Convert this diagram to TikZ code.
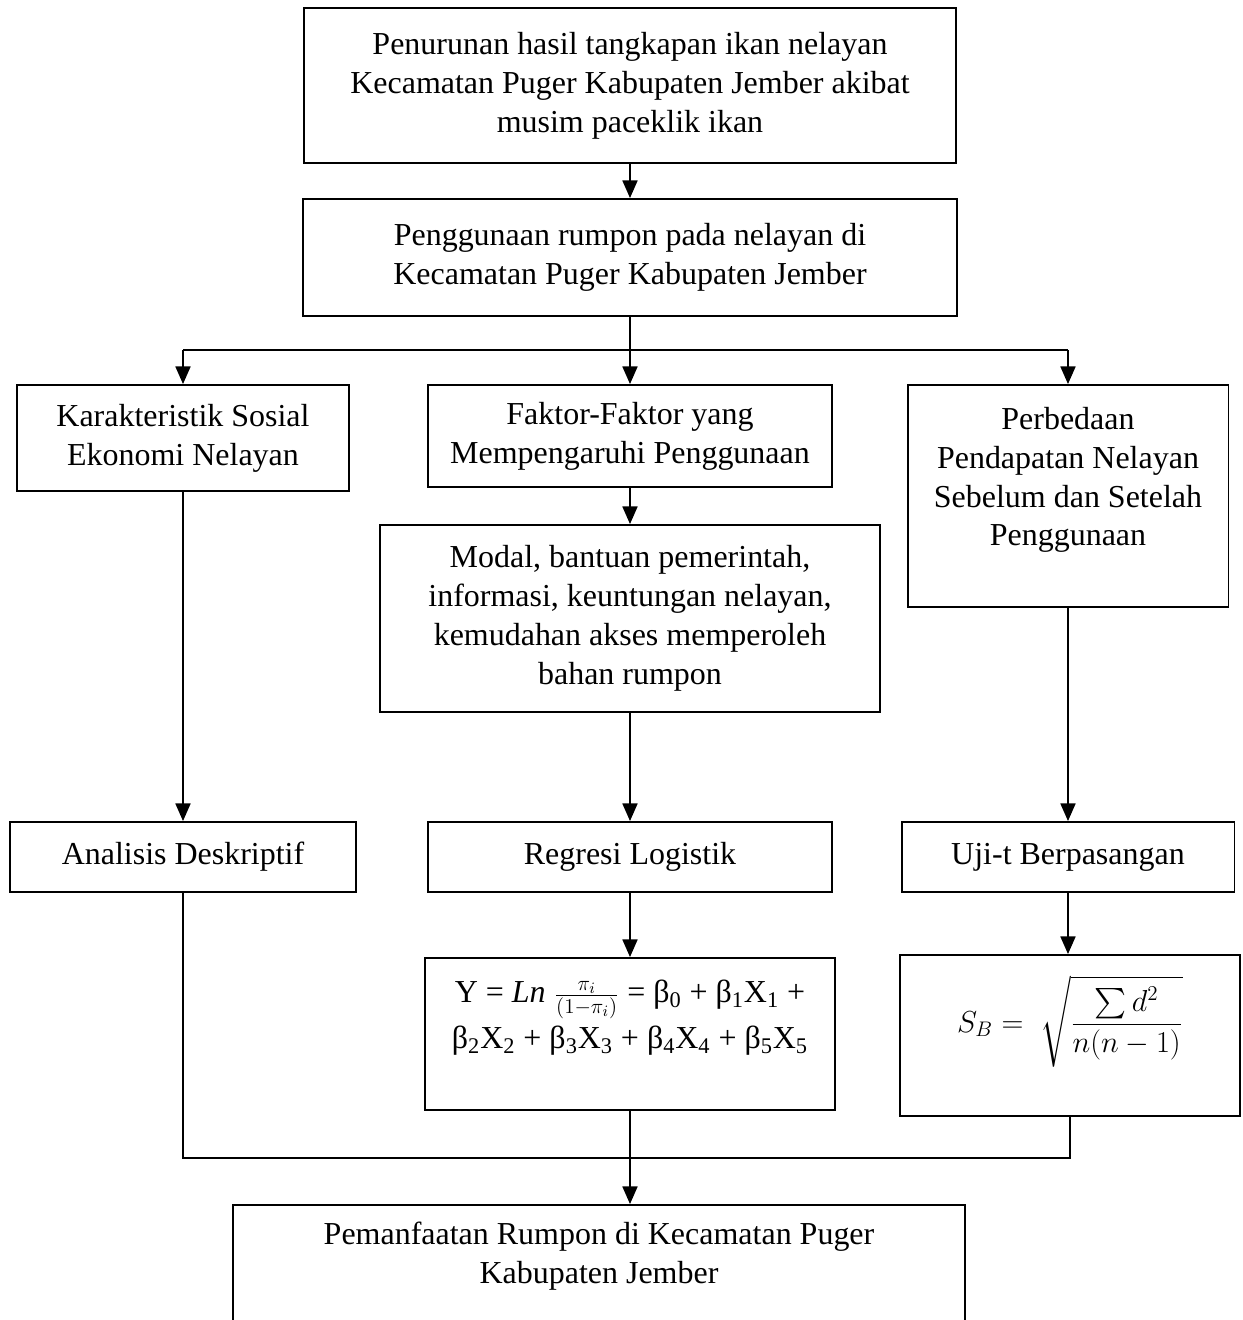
\documentclass[tikz,border=0pt]{standalone}
\usepackage{amsmath}
\usepackage{fontspec}
\setmainfont{Liberation Serif}
\usetikzlibrary{arrows.meta, positioning}

\tikzset{
  box/.style={draw, line width=1.1pt, align=center, inner sep=0pt},
  arr/.style={line width=1.1pt, -{Triangle[length=10pt, width=8.5pt]}},
  ln/.style={line width=1.1pt},
}

\begin{document}
\begin{tikzpicture}[x=0.02cm, y=-0.02cm, font=\fontsize{18.2}{22.1}\selectfont]
  \clip (0,0) rectangle (1243,1320);
  % top of the flow
  \node[box, minimum width=13.06cm, minimum height=3.1cm] (turun) at (630,85.5)
    {Penurunan hasil tangkapan ikan nelayan\\Kecamatan Puger Kabupaten Jember akibat\\musim paceklik ikan};
  \node[box, minimum width=13.1cm, minimum height=2.34cm] (guna) at (630,257.5)
    {Penggunaan rumpon pada nelayan di\\Kecamatan Puger Kabupaten Jember};
  % three branches
  \node[box, minimum width=6.64cm, minimum height=2.12cm] (karak) at (183,438)
    {Karakteristik Sosial\\Ekonomi Nelayan};
  \node[box, minimum width=8.1cm, minimum height=2.04cm] (faktor) at (630,436)
    {Faktor-Faktor yang\\Mempengaruhi Penggunaan};
  \node[box, minimum width=6.42cm, minimum height=4.44cm] (beda) at (1068,496)
    {Perbedaan\\Pendapatan Nelayan\\Sebelum dan Setelah\\Penggunaan\\~};
  \node[box, minimum width=10cm, minimum height=3.74cm] (modal) at (630,618.5)
    {Modal, bantuan pemerintah,\\informasi, keuntungan nelayan,\\kemudahan akses memperoleh\\bahan rumpon};
  % analysis methods
  \node[box, minimum width=6.92cm, minimum height=1.4cm] (deskr) at (183,857) {Analisis Deskriptif};
  \node[box, minimum width=8.1cm, minimum height=1.4cm] (regresi) at (630,857) {Regresi Logistik};
  \node[box, minimum width=6.66cm, minimum height=1.4cm] (uji) at (1068,857) {Uji-t Berpasangan};
  \node[box, minimum width=8.22cm, minimum height=3.04cm] (rumus) at (630,1034)
    {Y = $\mathit{Ln}\;\frac{\pi_i}{(1-\pi_i)}$ = β\textsubscript{0} + β\textsubscript{1}X\textsubscript{1} +\\[4pt]
     β\textsubscript{2}X\textsubscript{2} + β\textsubscript{3}X\textsubscript{3} + β\textsubscript{4}X\textsubscript{4} + β\textsubscript{5}X\textsubscript{5}\\~};
  \node[box, minimum width=6.8cm, minimum height=3.22cm] (sb) at (1070,1035.5)
    {$S_B = \;\sqrt{\dfrac{\sum d^2}{n(n-1)}}$\\[14pt]~};
  % result
  \node[box, minimum width=14.64cm, minimum height=2.7cm] (hasil) at (599,1272.5)
    {Pemanfaatan Rumpon di Kecamatan Puger\\Kabupaten Jember\\~};

  \coordinate (cab) at (630,350);
  \coordinate (gab) at (630,1158);

  \draw[arr] (turun.south) -- (guna.north);
  \draw[ln] (guna.south) -- (cab);
  \draw[ln] (karak.north |- cab) -- (beda.north |- cab);
  \foreach \n in {karak, faktor, beda}
    \draw[arr] (\n.north |- cab) -- (\n.north);
  \draw[arr] (faktor.south) -- (modal.north);
  \draw[arr] (karak.south) -- (deskr.north);
  \draw[arr] (modal.south) -- (regresi.north);
  \draw[arr] (beda.south) -- (uji.north);
  \draw[arr] (regresi.south) -- (rumus.north);
  \draw[arr] (uji.south) -- (uji.south |- sb.north);
  \draw[ln] (deskr.south) -- (deskr.south |- gab) -- (sb.south |- gab) -- (sb.south);
  \draw[arr] (rumus.south) -- (rumus.south |- hasil.north);
\end{tikzpicture}
\end{document}
